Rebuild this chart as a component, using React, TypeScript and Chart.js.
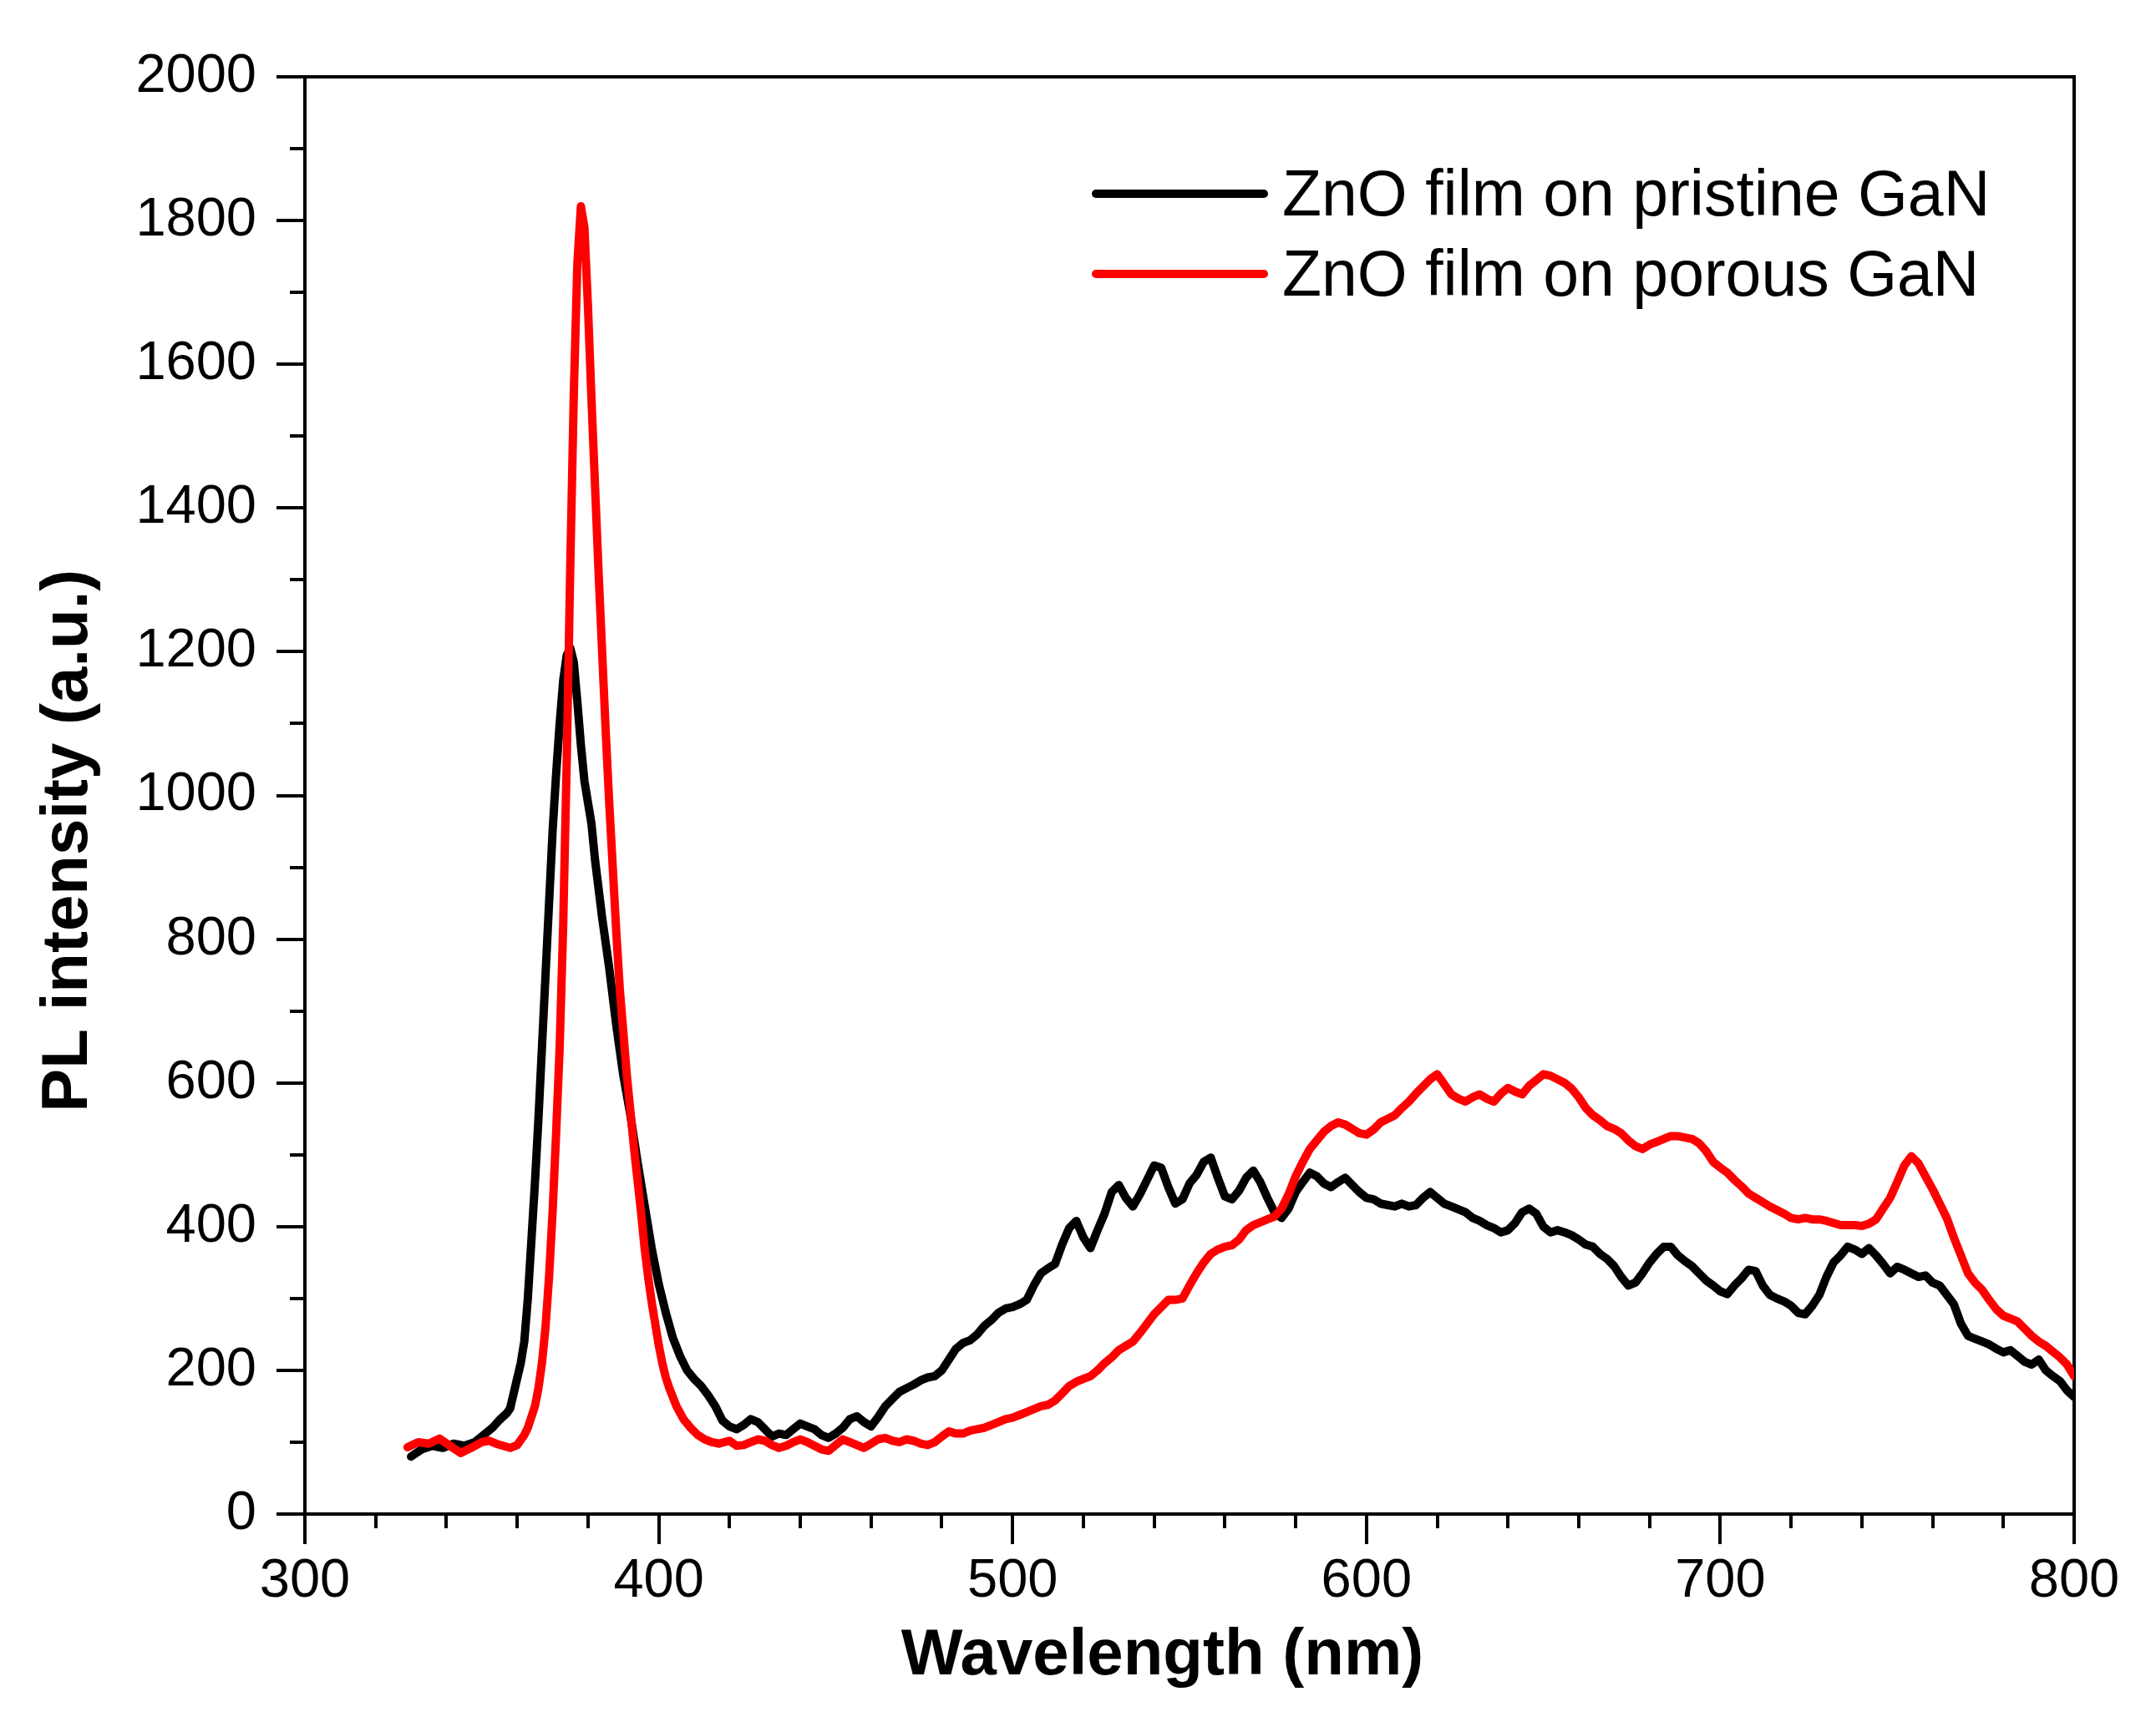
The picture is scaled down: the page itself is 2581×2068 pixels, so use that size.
import React, { useEffect, useRef } from 'react';
import { Chart, registerables } from 'chart.js';

Chart.register(...registerables);

const FONT = '"Liberation Sans", Arial, Helvetica, sans-serif';

const SERIES_LABELS = ['ZnO film on pristine GaN', 'ZnO film on porous GaN'];
const SERIES_COLORS = ['#000000', '#ff0000'];

const X_TITLE = 'Wavelength (nm)';
const Y_TITLE = 'PL intensity (a.u.)';

const X_MIN = 300;
const X_MAX = 800;
const X_MINOR_STEP = 20;
const X_LABEL_STEP = 100;
const Y_MIN = 0;
const Y_MAX = 2000;
const Y_MINOR_STEP = 100;
const Y_LABEL_STEP = 200;

// ZnO film on pristine GaN
const pristineWavelength = [
  330, 333, 336, 339, 342, 345, 348, 351, 353, 355, 357, 358, 360,
  361, 362, 363, 364, 365, 366, 367, 368, 369, 370, 371, 372, 373, 374, 375, 376, 377, 378, 379, 380, 381, 382, 383, 384,
  386, 388, 390, 392, 394, 396, 398, 400, 402, 404, 406, 408, 410, 412, 414, 416, 418, 420,
  422, 424, 426, 428, 430, 432, 434, 436, 438, 440, 442, 444, 446, 448, 450, 452, 454, 456, 458, 460,
  462, 464, 466, 468, 470, 472, 474, 476, 478, 480, 482, 484, 486, 488, 490, 492, 494, 496, 498, 500,
  502, 504, 506, 508, 510, 512, 514, 516, 518, 520, 522, 524, 526, 528, 530, 532, 534, 536, 538, 540,
  542, 544, 546, 548, 550, 552, 554, 556, 558, 560, 562, 564, 566, 568, 570, 572, 574, 576, 578, 580,
  582, 584, 586, 588, 590, 592, 594, 596, 598, 600, 602, 604, 606, 608, 610, 612, 614, 616, 618, 620,
  622, 624, 626, 628, 630, 632, 634, 636, 638, 640, 642, 644, 646, 648, 650, 652, 654, 656, 658, 660,
  662, 664, 666, 668, 670, 672, 674, 676, 678, 680, 682, 684, 686, 688, 690, 692, 694, 696, 698, 700,
  702, 704, 706, 708, 710, 712, 714, 716, 718, 720, 722, 724, 726, 728, 730, 732, 734, 736, 738, 740,
  742, 744, 746, 748, 750, 752, 754, 756, 758, 760, 762, 764, 766, 768, 770, 772, 774, 776, 778, 780,
  782, 784, 786, 788, 790, 792, 794, 796, 798, 800,
];
const pristineIntensity = [
  80, 90, 95, 92, 98, 95, 100, 112, 120, 131, 140, 147, 189,
  210, 240, 300, 380, 460, 550, 650, 750, 850, 950, 1030, 1100, 1160, 1195, 1205, 1185, 1130, 1070, 1020, 990, 960, 910, 870, 830,
  760, 680, 610, 555, 490, 430, 370, 320, 280, 245, 220, 200, 188, 178, 165, 150, 130, 122,
  118, 124, 132, 128, 118, 108, 112, 110, 118, 126, 122, 118, 110, 106, 112, 120, 132, 136, 128, 122,
  135, 150, 160, 170, 175, 180, 186, 190, 192, 200, 215, 230, 238, 242, 250, 262, 270, 280, 286, 288,
  292, 298, 318, 335, 342, 348, 375, 398, 408, 385, 370, 395, 418, 448, 458, 440, 428, 445, 465, 485,
  482, 455, 432, 438, 460, 472, 490, 496, 468, 442, 438, 450, 468, 478, 462, 440, 420, 412, 425, 448,
  462, 475, 470, 460, 455, 462, 468, 458, 448, 440, 438, 432, 430, 428, 432, 428, 430, 440, 448, 440,
  432, 428, 424, 420, 412, 408, 402, 398, 392, 395, 405, 420, 425, 418, 400, 392, 395, 392, 388, 382,
  375, 372, 362, 355, 345, 330, 318, 322, 335, 350, 362, 372, 372, 360, 352, 345, 335, 325, 318, 310,
  306, 318, 328, 340, 338, 318, 305, 300, 296, 290, 280, 278, 290, 305, 330, 350, 360, 372, 368, 362,
  370, 360, 348, 335, 344, 340, 335, 330, 332, 322, 318, 305, 292, 265, 248, 244, 240, 236, 230, 225,
  228, 220, 212, 208, 215, 200, 192, 185, 172, 163,
];

// ZnO film on porous GaN
const porousWavelength = [
  329, 332, 335, 338, 341, 344, 347, 350, 352, 354, 356, 358, 360, 362, 363,
  365, 366, 367, 368, 369, 370, 371, 372, 373, 374,
  375, 376, 377, 378, 379, 380, 381, 382, 383, 384,
  385, 386, 387, 388, 389, 390, 391, 392, 393, 394,
  395, 396, 397, 398, 399, 400, 401, 402, 403,
  405, 407, 409, 411, 413, 415, 417, 420,
  422, 424, 426, 428, 430, 432, 434, 436, 438, 440, 442, 444, 446, 448, 450, 452, 454, 456, 458, 460,
  462, 464, 466, 468, 470, 472, 474, 476, 478, 480, 482, 484, 486, 488, 490, 492, 494, 496, 498, 500,
  502, 504, 506, 508, 510, 512, 514, 516, 518, 520, 522, 524, 526, 528, 530, 532, 534, 536, 538, 540,
  542, 544, 546, 548, 550, 552, 554, 556, 558, 560, 562, 564, 566, 568, 570, 572, 574, 576, 578, 580,
  582, 584, 586, 588, 590, 592, 594, 596, 598, 600, 602, 604, 606, 608, 610, 612, 614, 616, 618, 620,
  622, 624, 626, 628, 630, 632, 634, 636, 638, 640, 642, 644, 646, 648, 650, 652, 654, 656, 658, 660,
  662, 664, 666, 668, 670, 672, 674, 676, 678, 680, 682, 684, 686, 688, 690, 692, 694, 696, 698, 700,
  702, 704, 706, 708, 710, 712, 714, 716, 718, 720, 722, 724, 726, 728, 730, 732, 734, 736, 738, 740,
  742, 744, 746, 748, 750, 752, 754, 756, 758, 760, 762, 764, 766, 768, 770, 772, 774, 776, 778, 780,
  782, 784, 786, 788, 790, 792, 794, 796, 798, 800,
];
const porousIntensity = [
  93, 100, 98, 105, 95, 85, 92, 100, 102, 98, 95, 92, 96, 110, 120,
  150, 175, 210, 260, 330, 420, 530, 650, 820, 1050,
  1320, 1560, 1740, 1820, 1790, 1680, 1550, 1430, 1310, 1200,
  1090, 990, 900, 810, 730, 670, 610, 560, 510, 465,
  420, 370, 330, 295, 265, 235, 210, 190, 175,
  150, 132, 120, 110, 104, 100, 98, 102,
  95, 96, 100, 104, 102, 96, 92, 95, 100, 104, 100, 95, 90, 88, 96, 104, 100, 96, 92, 98,
  104, 106, 102, 100, 104, 102, 98, 96, 100, 108, 115, 112, 112, 116, 118, 120, 124, 128, 132, 134,
  138, 142, 146, 150, 152, 158, 168, 178, 184, 188, 192, 200, 210, 218, 228, 234, 240, 252, 265, 278,
  288, 298, 298, 300, 318, 335, 350, 362, 368, 372, 374, 382, 395, 402, 406, 410, 414, 425, 445, 470,
  490, 508, 520, 532, 540, 545, 542, 536, 530, 528, 535, 545, 550, 555, 565, 574, 585, 595, 605, 612,
  598, 584, 578, 574, 580, 584, 578, 574, 585, 593, 588, 584, 596, 604, 612, 610, 605, 600, 592, 580,
  565, 555, 548, 540, 536, 530, 520, 512, 508, 514, 518, 522, 526, 526, 524, 522, 516, 505, 490, 482,
  475, 465, 456, 446, 440, 434, 428, 423, 418, 412, 410, 412, 410, 410, 408, 405, 402, 402, 402, 401,
  404, 410, 425, 440, 462, 485, 498, 488, 470, 452, 432, 412, 385, 360, 335, 322, 312, 298, 285, 276,
  272, 268, 258, 248, 240, 234, 226, 218, 208, 192,
];

const toPoints = (xs: number[], ys: number[]) => xs.map((x, i) => ({ x, y: ys[i] }));

const insideLegend = {
  id: 'insideLegend',
  afterDatasetsDraw(chart: any) {
    const ctx = chart.ctx as CanvasRenderingContext2D;
    ctx.save();
    chart.data.datasets.forEach((ds: any, i: number) => {
      const y = 232 + i * 96;
      ctx.strokeStyle = ds.borderColor;
      ctx.lineWidth = 10;
      ctx.lineCap = 'round';
      ctx.beginPath();
      ctx.moveTo(1312, y);
      ctx.lineTo(1513, y);
      ctx.stroke();
      ctx.fillStyle = '#000';
      ctx.font = `77px ${FONT}`;
      ctx.textAlign = 'left';
      ctx.textBaseline = 'alphabetic';
      ctx.fillText(ds.label, 1535, y + 26);
    });
    ctx.restore();
  },
};

export default function App() {
  const canvasRef = useRef<HTMLCanvasElement>(null);

  useEffect(() => {
    document.body.style.margin = '0';
    document.body.style.overflow = 'hidden';
    const canvas = canvasRef.current;
    if (!canvas) return;

    const isMinor = (c: any, step: number) =>
      c && c.tick && Math.round(c.tick.value) % step !== 0;

    const chart = new Chart(canvas, {
      type: 'line',
      data: {
        datasets: [
          {
            label: SERIES_LABELS[0],
            data: toPoints(pristineWavelength, pristineIntensity),
            borderColor: SERIES_COLORS[0],
            backgroundColor: SERIES_COLORS[0],
            borderWidth: 10,
            pointRadius: 0,
            tension: 0,
            borderJoinStyle: 'round',
            borderCapStyle: 'round',
            order: 1,
          },
          {
            label: SERIES_LABELS[1],
            data: toPoints(porousWavelength, porousIntensity),
            borderColor: SERIES_COLORS[1],
            backgroundColor: SERIES_COLORS[1],
            borderWidth: 10,
            pointRadius: 0,
            tension: 0,
            borderJoinStyle: 'round',
            borderCapStyle: 'round',
            order: 0,
          },
        ],
      },
      options: {
        animation: false,
        responsive: true,
        maintainAspectRatio: false,
        devicePixelRatio: 1,
        layout: { padding: 0 },
        plugins: {
          legend: { display: false },
          tooltip: { enabled: false },
        },
        scales: {
          x: {
            type: 'linear',
            position: 'bottom',
            min: X_MIN,
            max: X_MAX,
            ticks: {
              stepSize: X_MINOR_STEP,
              autoSkip: false,
              maxRotation: 0,
              minRotation: 0,
              padding: 6,
              color: '#000',
              font: { family: FONT, size: 65 },
              callback: (v: any) => (Math.round(v) % X_LABEL_STEP === 0 ? String(v) : ''),
            },
            grid: {
              display: true,
              drawOnChartArea: false,
              drawTicks: true,
              tickLength: 36,
              lineWidth: 4,
              tickWidth: 4,
              tickColor: '#000',
              color: '#000',
              tickBorderDash: (c: any) => (isMinor(c, X_LABEL_STEP) ? [15, 100] : []),
            },
            border: { display: true, color: '#000', width: 4 },
            title: {
              display: true,
              text: X_TITLE + '   ',
              color: '#000',
              font: { family: FONT, size: 78, weight: 'bold' },
              padding: { top: 0, bottom: 38 },
            },
            afterFit: (s: any) => {
              s.height = 255;
            },
          },
          xTop: {
            type: 'linear',
            position: 'top',
            min: X_MIN,
            max: X_MAX,
            ticks: { display: false },
            grid: { display: false, drawTicks: false },
            border: { display: true, color: '#000', width: 4 },
            afterFit: (s: any) => {
              s.height = 92;
            },
          },
          y: {
            type: 'linear',
            position: 'left',
            min: Y_MIN,
            max: Y_MAX,
            ticks: {
              stepSize: Y_MINOR_STEP,
              maxTicksLimit: 1000,
              autoSkip: false,
              padding: 24,
              color: '#000',
              font: { family: FONT, size: 65 },
              callback: (v: any) => (Math.round(v) % Y_LABEL_STEP === 0 ? String(v) : ''),
            },
            grid: {
              display: true,
              drawOnChartArea: false,
              drawTicks: true,
              tickLength: 34,
              lineWidth: 4,
              tickWidth: 4,
              tickColor: '#000',
              color: '#000',
              tickBorderDash: (c: any) => (isMinor(c, Y_LABEL_STEP) ? [0, 16, 100, 0] : []),
            },
            border: { display: true, color: '#000', width: 4 },
            title: {
              display: true,
              text: Y_TITLE + '     ',
              color: '#000',
              font: { family: FONT, size: 78, weight: 'bold' },
              padding: { top: 36, bottom: 0 },
            },
            afterFit: (s: any) => {
              s.width = 365;
            },
          },
          yRight: {
            type: 'linear',
            position: 'right',
            min: Y_MIN,
            max: Y_MAX,
            ticks: { display: false },
            grid: { display: false, drawTicks: false },
            border: { display: true, color: '#000', width: 4 },
            afterFit: (s: any) => {
              s.width = 98;
            },
          },
        },
      } as any,
      plugins: [insideLegend],
    });

    return () => chart.destroy();
  }, []);

  return (
    <div
      style={{
        position: 'absolute',
        left: 0,
        top: 0,
        width: '2581px',
        height: '2068px',
        background: '#ffffff',
      }}
    >
      <canvas ref={canvasRef} />
    </div>
  );
}
